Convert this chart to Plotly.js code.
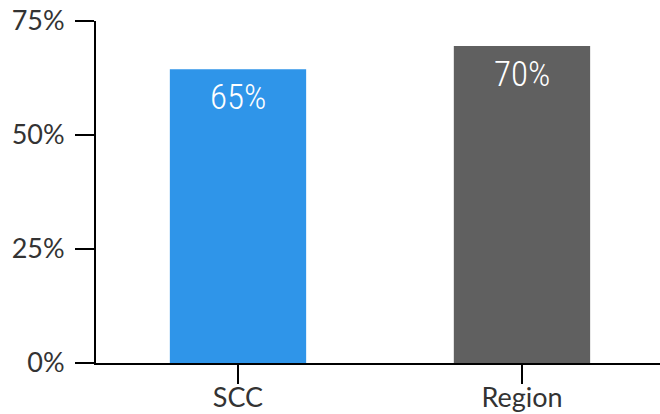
<!DOCTYPE html>
<html>
<head>
<meta charset="utf-8">
<script src="https://cdn.plot.ly/plotly-3.0.1.min.js"></script>
<style>html,body{margin:0;padding:0;background:#fff;}#chart{width:660px;height:414px;}</style>
</head>
<body>
<div id="chart"></div>
<script>
var categories = ["SCC", "Region"];
var values = [64.4, 69.5];
var valueLabels = ["65%", "70%"];
var barColors = ["#2F95E9", "#606060"];
var yTickVals = [0, 25, 50, 75];
var yTickText = ["0%", "25%", "50%", "75%"];

var trace = {
  type: "bar",
  x: categories,
  y: values,
  marker: {color: barColors},
  hoverinfo: "none"
};

var annotations = categories.map(function (c, i) {
  return {
    x: c, y: values[i], xref: "x", yref: "y",
    text: valueLabels[i], showarrow: false,
    yanchor: "middle", yshift: -28,
    font: {family: "Roboto Condensed, Liberation Sans Narrow, Roboto, sans-serif", stretch: "condensed", weight: 300, size: 35, color: "#ffffff"}
  };
});

var layout = {
  width: 660, height: 414,
  margin: {l: 96, r: 0, t: 21, b: 51, pad: 0},
  paper_bgcolor: "#ffffff", plot_bgcolor: "#ffffff",
  showlegend: false,
  bargap: 0.52,
  font: {family: "Lato, sans-serif", size: 27, color: "#333333"},
  xaxis: {
    range: [-0.5, 1.486],
    showline: true, linecolor: "#000000", linewidth: 2,
    ticks: "outside", ticklen: 19, tickwidth: 2, tickcolor: "#000000",
    ticklabelstandoff: -9,
    showgrid: false, zeroline: false, fixedrange: true
  },
  yaxis: {
    range: [0, 75],
    tickvals: yTickVals, ticktext: yTickText,
    showline: true, linecolor: "#000000", linewidth: 2,
    ticks: "outside", ticklen: 19, tickwidth: 2, tickcolor: "#000000",
    ticklabelstandoff: 5,
    showgrid: false, zeroline: false, fixedrange: true
  },
  annotations: annotations
};

Plotly.newPlot("chart", [trace], layout, {displayModeBar: false, staticPlot: true});
</script>
</body>
</html>
